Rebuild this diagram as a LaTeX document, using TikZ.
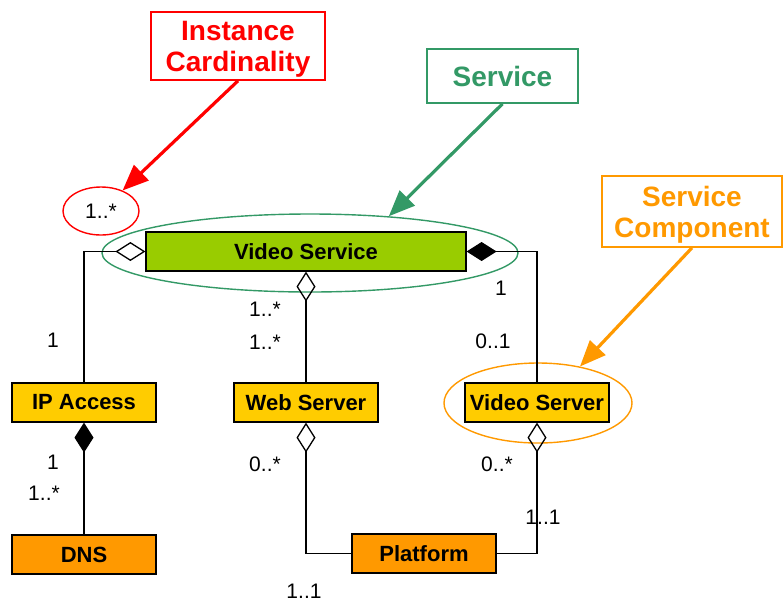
\documentclass[tikz,border=0pt]{standalone}
\usepackage{fontspec}
\setmainfont{Liberation Sans}
\usepackage{tikz}
\usetikzlibrary{positioning,arrows.meta,shapes.geometric}
\definecolor{vsgreen}{HTML}{99CC00}
\definecolor{compyellow}{HTML}{FFCC00}
\definecolor{platorange}{HTML}{FF9900}
\definecolor{svcgreen}{HTML}{339966}

\begin{document}
\begin{tikzpicture}[x=.5pt, y=-.5pt,
  cls/.style={draw, line width=.6pt, minimum width=72pt, minimum height=19.5pt, inner sep=0pt, font=\fontsize{11}{13}\selectfont\bfseries},
  mult/.style={font=\fontsize{10.5}{12}\selectfont, inner sep=0pt},
  note/.style={draw=#1, text=#1, line width=.8pt, fill=white, align=center, inner sep=0pt, font=\fontsize{14}{15.5}\selectfont\bfseries},
  link/.style={line width=.65pt},
  ring/.style={ellipse, draw=#1, line width=.7pt, inner sep=0pt},
  callout/.style={draw=#1, fill=#1, line width=1.6pt, -{Triangle[length=13pt,width=10.5pt]}}]

\useasboundingbox (0,0) rectangle (783,601);

\node[ring=red, minimum width=38pt, minimum height=24pt, font=\fontsize{10.5}{12}\selectfont] (card) at (101,211) {1..*};
\node[ring=svcgreen, minimum width=208pt, minimum height=39pt] (svcring) at (310,253) {};
\node[ring=platorange, minimum width=94pt, minimum height=40pt] (compring) at (538,403) {};

\node[cls, fill=vsgreen, minimum width=160pt] (vs) at (306,251.5) {Video Service};
\node[cls, fill=compyellow] (ipa) at (84,402.5) {IP Access};
\node[cls, fill=compyellow] (web) at (306,402.5) {Web Server};
\node[cls, fill=compyellow] (vsrv) at (537,402.5) {Video Server};
\node[cls, fill=platorange] (dns) at (84,554.5) {DNS};
\node[cls, fill=platorange] (plat) at (424,553.5) {Platform};

\draw[link, {Diamond[open,length=15pt,width=9.5pt]}-] (vs.west) -| (ipa.north);
\draw[link, {Diamond[length=15pt,width=9.5pt]}-] (vs.east) -| (vsrv.north);
\draw[link, {Diamond[open,length=15pt,width=9.5pt]}-] (vs.south) -- (web.north);
\draw[link, {Diamond[length=15pt,width=9.5pt]}-] (ipa.south) -- (dns.north);
\draw[link, {Diamond[open,length=15pt,width=9.5pt]}-] (web.south) |- (plat.west);
\draw[link, {Diamond[open,length=15pt,width=9.5pt]}-] (vsrv.south) |- (plat.east);

\node[mult] (ipaup) at (53,340) {1};
\node[mult] (webup) at (265,309) {1..*};
\node[mult] (webdown) at (265,342) {1..*};
\node[mult] (vsrvup) at (501,288) {1};
\node[mult] (vsrvdown) at (493,341) {0..1};
\node[mult] (dnsup) at (53,462) {1};
\node[mult] (dnsdown) at (44,493) {1..*};
\node[mult] (webplat) at (265,464) {0..*};
\node[mult] (vsrvplat) at (497,464) {0..*};
\node[mult] (platright) at (543,517) {1..1};
\node[mult] (platleft) at (304,591) {1..1};

\node[note=red, text depth=0pt, minimum width=87pt, minimum height=34pt] (ic) at (238,46) {Instance\\Cardinality};
\node[note=svcgreen, minimum width=75.5pt, minimum height=27pt] (svc) at (502.5,76) {Service};
\node[note=platorange, text depth=0pt, minimum width=90pt, minimum height=35.5pt] (sc) at (692,211.5) {Service\\Component};

\draw[callout=red] (ic.south) -- (card);
\draw[callout=svcgreen] (svc.south) -- (svcring.25);
\draw[callout=platorange] (sc.south) -- (compring.41);

\end{tikzpicture}
\end{document}
